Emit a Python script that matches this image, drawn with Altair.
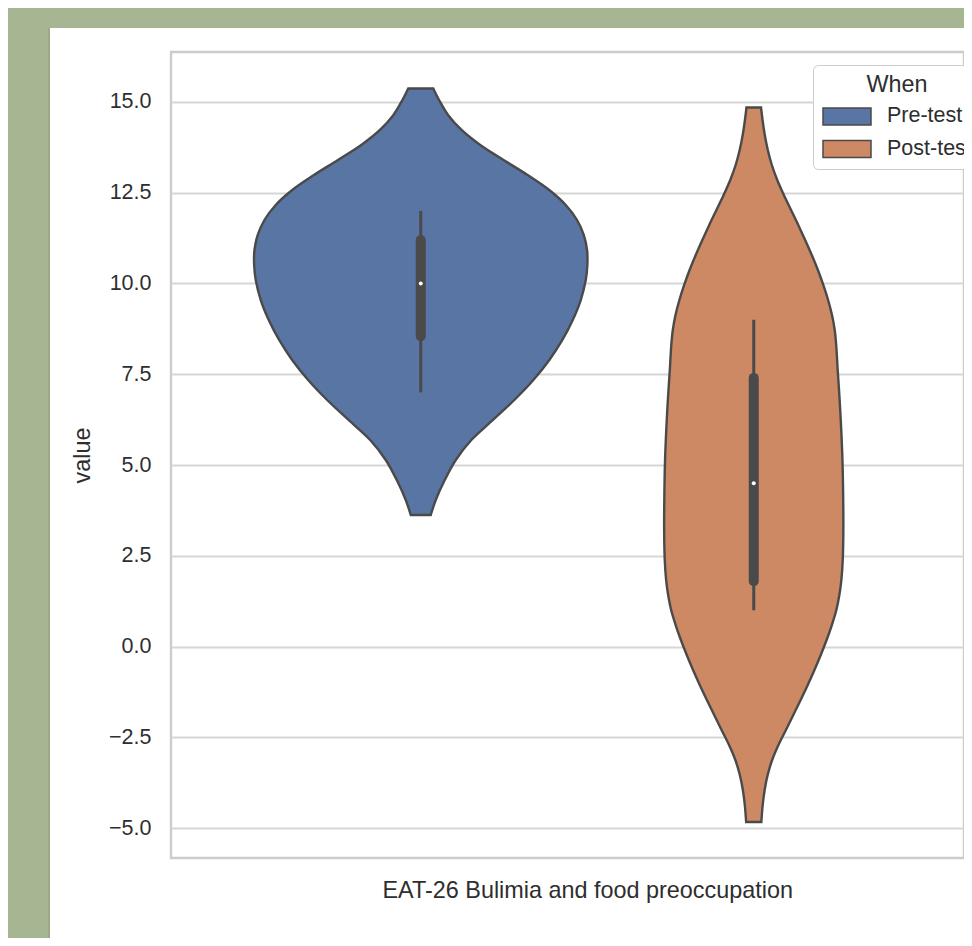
import altair as alt
import pandas as pd

FONT = "Liberation Sans"
GREEN = "#a6b693"
LINE = "#4a4a4a"
TEXT = "#2e2e2e"

category = "EAT-26 Bulimia and food preoccupation"
groups = ["Pre-test", "Post-test"]
group_pos = [-0.2, 0.2]          # dodge positions of the two hue levels inside the category
colors = ["#5975a4", "#cc8963"]

# violin outlines: value (y) and half-width (x units)
pre_y = [15.372, 15.055, 14.642, 14.229, 13.815, 13.402, 12.989, 12.576, 12.163, 11.749,
         11.336, 10.923, 10.510, 10.096, 9.545, 8.994, 8.444, 7.893, 7.342, 6.791,
         6.240, 5.689, 5.138, 4.587, 4.036, 3.623]
pre_half = [0.01502, 0.02198, 0.03279, 0.04901, 0.07147, 0.09946, 0.12829, 0.15435, 0.17417, 0.18775,
            0.19580, 0.19976, 0.20012, 0.19820, 0.19219, 0.18258, 0.17009, 0.15447, 0.13526, 0.11243,
            0.08673, 0.06078, 0.04204, 0.02883, 0.01802, 0.01201]

post_y = [14.848, 14.504, 14.091, 13.678, 13.264, 12.851, 12.438, 12.025, 11.612, 11.198,
          10.785, 10.372, 9.959, 9.545, 9.132, 8.719, 8.306, 7.617, 6.791, 5.964,
          5.138, 4.174, 3.209, 2.383, 1.832, 1.419, 1.006, 0.592, 0.179, -0.234,
          -0.647, -1.061, -1.474, -1.887, -2.300, -2.713, -3.127, -3.540, -3.953, -4.366,
          -4.835]
post_half = [0.00877, 0.01057, 0.01327, 0.01688, 0.02174, 0.02823, 0.03616, 0.04480, 0.05345, 0.06174,
             0.06967, 0.07706, 0.08354, 0.08931, 0.09399, 0.09724, 0.09904, 0.10084, 0.10318, 0.10511,
             0.10655, 0.10739, 0.10763, 0.10691, 0.10523, 0.10282, 0.09922, 0.09381, 0.08751, 0.08048,
             0.07291, 0.06486, 0.05634, 0.04751, 0.03868, 0.02967, 0.02210, 0.01670, 0.01309, 0.01075,
             0.00913]

# inner box plot
whisk_lo = [7.0, 1.0]
whisk_hi = [12.0, 9.0]
q1 = [8.55, 1.8]
q3 = [11.2, 7.4]
median = [10.0, 4.5]

y_ticks = [-5.0, -2.5, 0.0, 2.5, 5.0, 7.5, 10.0, 12.5, 15.0]

rows = []
for g, pos, ys_, hs in [(groups[0], group_pos[0], pre_y, pre_half),
                        (groups[1], group_pos[1], post_y, post_half)]:
    for v, h in zip(ys_, hs):
        rows.append({"When": g, "value": v, "pos": pos, "half": h})
violin_df = pd.DataFrame(rows)

box_df = pd.DataFrame({"When": groups, "pos": group_pos, "lo": whisk_lo, "hi": whisk_hi,
                       "q1": q1, "q3": q3, "med": median})

PLOT_W = 793
xscale = alt.Scale(domain=[-0.5, -0.5 + PLOT_W / 832.5], nice=False, zero=False)
yscale = alt.Scale(domain=[-5.826, 16.377], nice=False, zero=False)

x_axis = alt.Axis(values=[0], labelExpr=f"'{category}'", title=None, grid=False,
                  ticks=False, domain=False, labelFont=FONT, labelFontSize=23.4,
                  labelColor=TEXT, labelPadding=21, labelLimit=0)
y_axis = alt.Axis(values=y_ticks, format=".1f", title="value", grid=True,
                  gridColor="#d6d6d6", gridWidth=2, ticks=False, domain=False,
                  labelFont=FONT, labelFontSize=21.5, labelColor=TEXT, labelPadding=20,
                  titleFont=FONT, titleFontSize=23.4, titleFontWeight="normal",
                  titleColor=TEXT, titlePadding=14)

color_scale = alt.Scale(domain=groups, range=colors)
legend = alt.Legend(
    title="When", orient="none", legendX=642, legendY=13,
    titleAnchor="middle", titleFont=FONT, titleFontSize=23.4, titleFontWeight="normal",
    titleColor=TEXT, titlePadding=8,
    labelFont=FONT, labelFontSize=21.5, labelColor=TEXT, labelOffset=15,
    symbolType="M-1,-0.354H1V0.354H-1Z", symbolSize=2304,
    symbolStrokeColor=LINE, symbolStrokeWidth=1.5, symbolOpacity=1,
    clipHeight=22, rowPadding=10.5,
    fillColor="white", strokeColor="#cccccc", cornerRadius=5, padding=9,
)

one = pd.DataFrame({"k": [0]})
green_left = alt.Chart(one).mark_rect(color=GREEN).encode(
    x=alt.value(-163), x2=alt.value(-121), y=alt.value(-44), y2=alt.value(900))
green_top = alt.Chart(one).mark_rect(color=GREEN).encode(
    x=alt.value(-163), x2=alt.value(810), y=alt.value(-44), y2=alt.value(-24))
shadow = alt.Chart(one).mark_rect(color="#8d9a7e", opacity=0.45).encode(
    x=alt.value(-123), x2=alt.value(-121), y=alt.value(-24), y2=alt.value(900))

violin = alt.Chart(violin_df).transform_calculate(
    lo="datum.pos - datum.half", hi="datum.pos + datum.half"
).mark_area(orient="horizontal", interpolate="catmull-rom", stroke=LINE,
            strokeWidth=2.4, opacity=1, fillOpacity=1).encode(
    y=alt.Y("value:Q", scale=yscale, axis=y_axis),
    x=alt.X("lo:Q", scale=xscale, axis=x_axis),
    x2="hi:Q",
    color=alt.Color("When:N", scale=color_scale, legend=legend, sort=groups),
)

whisk = alt.Chart(box_df).mark_rule(color=LINE, strokeWidth=3).encode(
    x=alt.X("pos:Q", scale=xscale, axis=x_axis),
    y=alt.Y("lo:Q", scale=yscale, axis=y_axis), y2="hi:Q")
box = alt.Chart(box_df).mark_rule(color=LINE, strokeWidth=10, strokeCap="round").encode(
    x=alt.X("pos:Q", scale=xscale, axis=x_axis),
    y=alt.Y("q1:Q", scale=yscale, axis=y_axis), y2="q3:Q")
med = alt.Chart(box_df).mark_point(filled=True, color="white", size=16, opacity=1).encode(
    x=alt.X("pos:Q", scale=xscale, axis=x_axis),
    y=alt.Y("med:Q", scale=yscale, axis=y_axis))

chart = alt.layer(green_left, green_top, shadow, violin, whisk, box, med).properties(
    width=PLOT_W, height=806,
    autosize=alt.AutoSizeParams(type="none"),
    padding={"left": 163, "top": 44, "right": 0, "bottom": 80},
    background="white",
).configure_view(stroke="#cccccc", strokeWidth=2.4)

chart.save("out.html", embed_options={"renderer": "svg", "actions": False})
